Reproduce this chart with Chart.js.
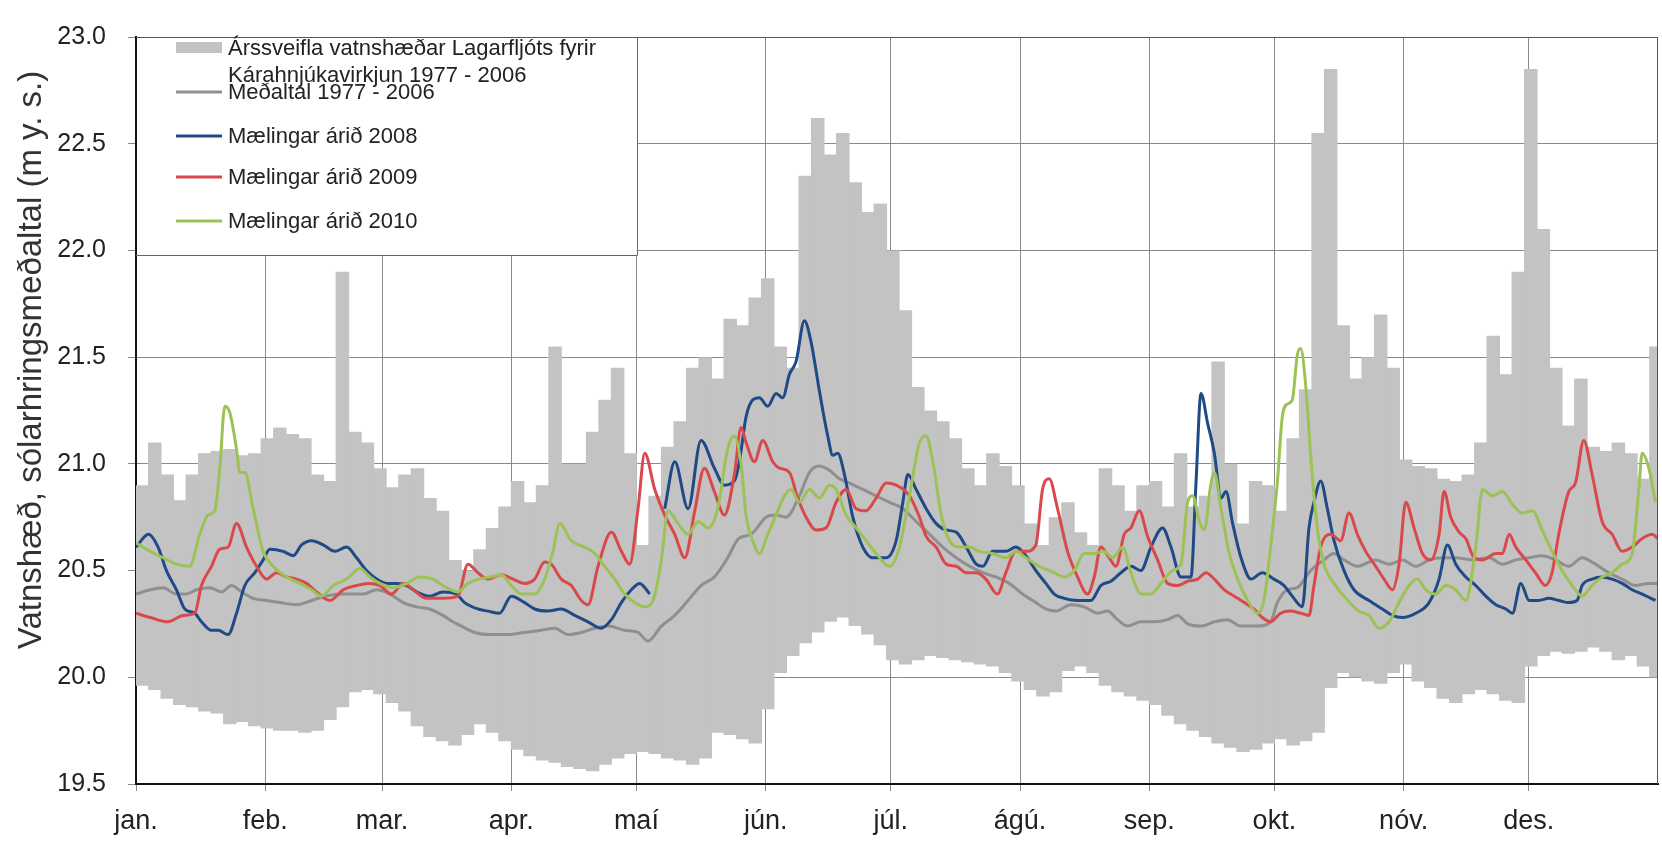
<!DOCTYPE html>
<html><head><meta charset="utf-8">
<script src="https://cdn.jsdelivr.net/npm/chart.js@4.4.1/dist/chart.umd.min.js"></script>
<style>html,body{margin:0;padding:0;background:#fff;}canvas{display:block;}</style>
</head><body>
<canvas id="c" width="1662" height="843"></canvas>
<script>
// ---- axis categories ----
const monthStarts = [0,31,59,90,120,151,181,212,243,273,304,334];
const monthLabels = ['jan.','feb.','mar.','apr.','maí','jún.','júl.','ágú.','sep.','okt.','nóv.','des.'];
const yTitle = 'Vatnshæð, sólarhringsmeðaltal (m y. s.)';
const legendBand = ['Árssveifla vatnshæðar Lagarfljóts fyrir','Kárahnjúkavirkjun 1977 - 2006'];
const legendMean = 'Meðaltal 1977 - 2006';
const legend2008 = 'Mælingar árið 2008';
const legend2009 = 'Mælingar árið 2009';
const legend2010 = 'Mælingar árið 2010';

// ---- range band 1977-2006 (start day of each 3-day bin, low, high) ----
const bandDays = [0,3,6,9,12,15,18,21,24,27,30,33,36,39,42,45,48,51,54,57,60,63,66,69,72,75,78,81,84,87,90,93,96,99,102,105,108,111,114,117,120,123,126,129,132,135,138,141,144,147,150,153,156,159,162,165,168,171,174,177,180,183,186,189,192,195,198,201,204,207,210,213,216,219,222,225,228,231,234,237,240,243,246,249,252,255,258,261,264,267,270,273,276,279,282,285,288,291,294,297,300,303,306,309,312,315,318,321,324,327,330,333,336,339,342,345,348,351,354,357,360,363];
const bandHigh = [20.90,21.10,20.95,20.83,20.95,21.05,21.06,21.07,21.04,21.05,
21.12,21.17,21.14,21.12,20.95,20.92,21.90,21.15,21.10,20.98,
20.89,20.95,20.98,20.84,20.78,20.55,20.50,20.60,20.70,20.80,
20.92,20.82,20.90,21.55,21.00,21.00,21.15,21.30,21.45,21.05,
20.62,20.85,21.08,21.20,21.45,21.50,21.40,21.68,21.65,21.78,
21.87,21.55,21.45,22.35,22.62,22.45,22.55,22.32,22.18,22.22,
22.00,21.72,21.36,21.25,21.20,21.12,20.98,20.90,21.05,20.99,
20.90,20.72,20.62,20.75,20.82,20.68,20.62,20.98,20.90,20.78,
20.90,20.92,20.80,21.05,20.80,20.85,21.48,21.00,20.72,20.92,
20.90,20.78,21.12,21.35,22.55,22.85,21.65,21.40,21.50,21.70,
21.45,21.02,20.99,20.98,20.93,20.92,20.95,21.10,21.60,21.42,
21.90,22.85,22.10,21.45,21.18,21.40,21.08,21.06,21.10,21.05,
20.93,21.55];
const bandLow = [19.96,19.94,19.90,19.87,19.86,19.84,19.83,19.78,19.79,19.77,
19.76,19.75,19.75,19.74,19.75,19.80,19.86,19.93,19.94,19.92,
19.88,19.84,19.77,19.72,19.70,19.68,19.73,19.78,19.74,19.70,
19.66,19.63,19.61,19.60,19.58,19.57,19.56,19.59,19.62,19.64,
19.65,19.64,19.62,19.61,19.59,19.62,19.74,19.73,19.71,19.69,
19.85,20.02,20.10,20.16,20.21,20.26,20.28,20.24,20.20,20.15,
20.08,20.06,20.08,20.10,20.09,20.08,20.07,20.06,20.05,20.02,
19.98,19.94,19.91,19.93,20.03,20.05,20.02,19.96,19.93,19.91,
19.89,19.87,19.82,19.78,19.75,19.72,19.69,19.67,19.65,19.66,
19.69,19.71,19.68,19.70,19.74,19.95,20.02,20.00,19.98,19.97,
20.02,20.06,19.98,19.95,19.90,19.88,19.92,19.94,19.92,19.89,
19.88,20.05,20.10,20.12,20.11,20.12,20.14,20.12,20.08,20.10,
20.05,20.00];

// ---- mean 1977-2006 ----
const meanDays = [0,3.4,6.5,9.7,12.1,14.5,17.7,20.5,22.9,25.3,28.1,31.3,34.5,38.5,42.1,45.3,49.7,54.5,57.7,60.9,64.1,67.3,70.4,73.6,76,78,81.2,85.2,89.2,93.2,97.2,100.4,103.6,106.8,110,113.2,117.2,120.4,122.8,126,129.2,132.4,135.5,138.7,141.9,144.5,147.5,151.1,153.5,155.9,159.1,161.5,163.9,166.3,168.7,171.1,174.3,177.5,180.7,183.9,187.1,190.3,193.5,196.7,199.9,203.1,206.2,209.4,212.6,215.8,218.2,220.5,224.2,227.4,230.6,233,235.4,237.8,241,244.2,247.4,249.8,252.2,255.4,258.6,261.8,264.9,268.9,272.1,273.7,276.1,278.5,281.7,284.9,287.3,289.7,292.9,297.3,300.5,303.7,306.9,310.1,313.3,316.5,320.5,324.5,327.7,330.9,334.1,337.2,340.4,343.6,346.8,350,353.2,356.4,359.6,362.8,365];
const meanVals = [20.39,20.41,20.42,20.39,20.39,20.41,20.42,20.40,20.43,20.40,20.37,20.36,20.35,20.34,20.36,20.38,20.39,20.39,20.41,20.39,20.35,20.33,20.32,20.29,20.26,20.24,20.21,20.20,20.20,20.21,20.22,20.23,20.20,20.21,20.23,20.24,20.22,20.21,20.17,20.24,20.29,20.36,20.43,20.47,20.56,20.65,20.67,20.75,20.76,20.75,20.85,20.96,20.99,20.97,20.93,20.91,20.88,20.85,20.82,20.79,20.73,20.67,20.61,20.56,20.52,20.49,20.47,20.44,20.39,20.35,20.32,20.31,20.34,20.33,20.30,20.31,20.27,20.24,20.26,20.26,20.27,20.29,20.25,20.24,20.26,20.27,20.24,20.24,20.26,20.35,20.41,20.42,20.50,20.55,20.58,20.55,20.52,20.55,20.53,20.55,20.52,20.55,20.56,20.56,20.55,20.56,20.53,20.55,20.56,20.57,20.55,20.52,20.56,20.53,20.49,20.46,20.43,20.44,20.44];

// ---- 2008 ----
const days2008 = [0,3,5.3,7.3,9.7,11.7,14.1,15.7,18.1,19.7,22.1,24.1,26.1,28.5,30.5,32.1,35.3,37.7,39.7,42.1,44.9,47.7,50.5,52.9,55.3,57.7,60.1,62.5,64.9,67.3,70.4,73.6,76.8,78.8,82,84.4,87.2,90,93.2,95.6,98.8,102,105.2,108.4,111.6,114,116.4,118.8,120.8,123.2,125,126.8,129.2,132.4,135.5,138.7,141.1,143.5,144.7,146.3,147.9,149.5,151.5,153.5,155.1,156.7,158.3,160.3,161.9,163.9,165.9,167.1,168.3,169.9,171.9,174.3,176.7,179.9,182.3,183.9,185.1,187.1,189.5,191.9,194.3,196.7,199.1,201.5,203.1,205.4,208.6,211,213.4,215.8,218.2,220.2,222.6,225.8,229,231.4,233.8,236.2,238.6,241,243.4,246.2,248.2,250.6,253,254.2,255.4,257,258.6,260.2,261.4,263,265,267.4,270.1,272.9,275.3,277.3,279.7,281.3,282.5,284.1,285.7,287.3,289.7,292.1,295.7,298.9,301.3,303.7,306.9,310.1,312.5,314.5,316.5,318.9,321.3,323.7,326.1,328.5,330.1,332.1,334.1,336.4,338.8,341.2,343.6,345.6,346.8,349.2,351.6,354,356.4,358.8,361.2,364.4];
const vals2008 = [20.61,20.67,20.61,20.50,20.41,20.32,20.30,20.26,20.22,20.22,20.20,20.30,20.43,20.49,20.55,20.60,20.59,20.57,20.62,20.64,20.62,20.59,20.61,20.56,20.50,20.46,20.44,20.44,20.43,20.40,20.38,20.40,20.39,20.35,20.32,20.31,20.30,20.38,20.35,20.32,20.31,20.32,20.29,20.26,20.23,20.27,20.35,20.41,20.44,20.39,null,20.79,21.01,20.79,21.11,20.98,20.90,20.92,21.01,21.22,21.30,21.31,21.27,21.33,21.31,21.42,21.48,21.67,21.57,21.34,21.13,21.04,21.05,20.95,20.75,20.61,20.56,20.56,20.64,20.82,20.95,20.88,20.79,20.72,20.69,20.68,20.61,20.53,20.52,20.59,20.59,20.61,20.57,20.50,20.44,20.39,20.37,20.36,20.36,20.43,20.45,20.49,20.52,20.50,20.61,20.70,20.61,20.47,20.47,20.91,21.33,21.19,21.05,20.84,20.87,20.72,20.56,20.46,20.49,20.46,20.43,20.38,20.33,20.70,20.82,20.92,20.79,20.64,20.50,20.41,20.36,20.32,20.29,20.28,20.30,20.35,20.46,20.62,20.53,20.47,20.43,20.38,20.34,20.32,20.30,20.44,20.36,20.36,20.37,20.36,20.35,20.36,20.43,20.46,20.47,20.46,20.44,20.41,20.39,20.36];

// ---- 2009 ----
const days2009 = [0,3.4,7.7,11.3,14.1,15.7,18.1,20.1,22.1,24.1,26.5,28.9,31.3,33.7,36.1,38.5,40.9,43.3,46.5,49.7,52.9,55.7,58.5,61.3,64.1,66.5,69.6,73.6,77.2,79.6,82,84.4,87.6,90.4,93.2,95.6,98,99.6,102,104.4,106.8,108.4,110.8,114,116.4,118.4,120.4,122,124.4,126.8,129.2,131.6,134,136.3,138.7,141.1,143.5,145.1,146.3,148.3,150.3,152.7,154.3,156.7,158.7,160.7,163.1,165.5,167.9,170.3,172.7,175.1,177.5,179.9,182.3,185.5,187.9,189.5,191.9,194.3,196.7,199.1,201.5,203.8,206.6,208.6,211,213.4,215.8,217.4,219,221,223.4,225.8,228.2,229.8,231.4,233.4,235,237,238.6,240.6,242.6,245,247.4,249.8,252.2,254.6,256.6,258.6,261,263.4,265.8,268.1,270.1,272.1,274.5,276.9,279.3,281.3,282.5,284.1,286.5,288.9,290.9,292.9,294.9,297.3,299.3,301.3,302.9,304.5,306.5,308.5,310.5,312.5,313.7,315.3,317.3,318.9,320.9,322.9,326.1,327.7,329.3,330.9,333.3,335.6,338,339.6,341.2,343.6,345.2,347.2,349.2,351.6,354,356.4,358.8,361.2,363.6,365];
const vals2009 = [20.30,20.28,20.26,20.29,20.30,20.43,20.52,20.60,20.61,20.72,20.61,20.52,20.46,20.49,20.47,20.46,20.44,20.40,20.36,20.41,20.43,20.44,20.43,20.39,20.44,20.41,20.37,20.37,20.38,20.53,20.49,20.46,20.48,20.46,20.44,20.46,20.54,20.53,20.46,20.43,20.36,20.34,20.52,20.68,20.59,20.53,20.79,21.05,20.88,20.76,20.67,20.56,20.78,20.98,20.87,20.76,20.95,21.17,21.10,21.01,21.11,21.01,20.98,20.96,20.84,20.75,20.69,20.70,20.82,20.88,20.79,20.78,20.84,20.91,20.90,20.85,20.75,20.66,20.61,20.53,20.52,20.49,20.49,20.46,20.39,20.49,20.59,20.59,20.62,20.88,20.93,20.79,20.59,20.47,20.39,20.47,20.61,20.56,20.52,20.67,20.70,20.78,20.66,20.55,20.44,20.43,20.45,20.46,20.49,20.46,20.41,20.38,20.35,20.32,20.28,20.26,20.30,20.31,20.30,20.29,20.43,20.61,20.67,20.64,20.77,20.67,20.59,20.52,20.46,20.41,20.53,20.82,20.70,20.58,20.55,20.67,20.87,20.75,20.68,20.65,20.56,20.55,20.58,20.58,20.67,20.61,20.55,20.49,20.43,20.49,20.67,20.87,20.91,21.11,20.95,20.73,20.67,20.59,20.61,20.65,20.67,20.65];

// ---- 2010 ----
const days2010 = [0,3.4,6.5,9.7,12.9,15.3,17.3,18.9,20.1,21.3,22.5,24.1,24.9,26.1,28.1,30.5,32.9,36.1,39.3,42.1,44.5,47.3,50.5,53.7,56.1,58.5,61.7,64.9,68,71.2,73.6,77.2,79.6,82,85.2,87.6,90,92.4,95.6,98,100,101.6,104.4,107.6,110,112.4,114.8,117.2,119.6,122,124,126,127.6,130,132.4,134.8,137.2,139.5,141.9,143.5,145.1,146.3,147.9,149.5,151.5,153.5,155.5,157.1,159.1,161.5,163.9,166.3,167.9,170.3,172.7,175.1,177.5,180.7,183.1,185.5,187.9,189.5,191.1,193.1,195.1,197.5,199.9,202.2,205.4,208.6,211,213.4,216.6,220.2,222.6,225,227.4,229.8,232.2,234.2,236.6,238.6,241,243.4,245.8,248.6,250.6,252.2,253.4,255,256.2,257.8,258.6,260.2,262.2,264.2,266.6,269,270.5,272.1,273.7,274.9,276.1,277.3,278.5,279.3,280.5,281.7,283.3,284.9,287.3,289.7,293.3,295.7,298.1,300.5,302.9,305.3,307.3,309.3,311.7,314.1,316.5,318.9,321.3,322.9,325.3,327.7,330.1,332.5,334.9,337.2,339.6,342,344.4,346.8,349.2,351.6,354,356.4,358.8,360.4,361.2,362.8,364.4];
const vals2010 = [20.63,20.59,20.56,20.53,20.52,20.67,20.76,20.78,20.98,21.27,21.24,21.07,20.96,20.96,20.79,20.59,20.52,20.47,20.44,20.41,20.38,20.43,20.46,20.51,20.47,20.44,20.42,20.44,20.47,20.46,20.43,20.40,20.44,20.46,20.47,20.48,20.43,20.39,20.39,20.46,20.59,20.72,20.64,20.61,20.58,20.52,20.46,20.39,20.35,20.33,20.36,20.55,20.78,20.72,20.67,20.73,20.70,20.79,21.07,21.13,21.00,20.76,20.64,20.58,20.67,20.76,20.85,20.88,20.82,20.88,20.84,20.90,20.88,20.76,20.70,20.64,20.58,20.52,20.61,20.85,21.10,21.13,21.01,20.76,20.64,20.61,20.61,20.59,20.58,20.56,20.59,20.56,20.52,20.49,20.47,20.50,20.58,20.58,20.59,20.56,20.61,20.49,20.39,20.39,20.44,20.50,20.53,20.82,20.85,20.73,20.69,20.91,20.96,20.79,20.58,20.46,20.36,20.30,20.36,20.61,20.91,21.22,21.28,21.30,21.51,21.54,21.37,21.04,20.70,20.53,20.44,20.38,20.31,20.29,20.23,20.26,20.35,20.43,20.46,20.41,20.39,20.43,20.41,20.36,20.61,20.88,20.85,20.87,20.81,20.77,20.78,20.69,20.59,20.50,20.43,20.38,20.43,20.47,20.49,20.53,20.58,20.88,21.05,20.98,20.82];

// ---- colours ----
const cBand = '#c3c3c3', cMean = '#8f8f8f', c2008 = '#1f4a86', c2009 = '#d9494c', c2010 = '#9cc256';
const FONT = "'Liberation Sans', Arial, sans-serif";
Chart.defaults.font.family = FONT;

const pts = (d, v) => d.map((x, i) => ({x: x, y: v[i]}));
const lineDs = (label, d, v, color, order) => ({
  type: 'line', label, data: pts(d, v), borderColor: color, backgroundColor: color,
  borderWidth: 3, pointRadius: 0, cubicInterpolationMode: 'monotone', spanGaps: false, order
});

const deco = {
  id: 'deco',
  afterDatasetsDraw(chart) {
    const ctx = chart.ctx, a = chart.chartArea;
    ctx.save();
    // top and right frame
    ctx.strokeStyle = '#555'; ctx.lineWidth = 1;
    ctx.beginPath();
    ctx.moveTo(a.left, a.top + 0.5); ctx.lineTo(a.right, a.top + 0.5);
    ctx.moveTo(a.right - 0.5, a.top); ctx.lineTo(a.right - 0.5, a.bottom);
    ctx.stroke();
    // legend box
    const bx0 = a.left + 1, by0 = a.top + 1, bx1 = a.left + 501, by1 = a.top + 218;
    ctx.fillStyle = '#fff';
    ctx.fillRect(bx0, by0, bx1 - bx0, by1 - by0);
    ctx.strokeStyle = '#666'; ctx.lineWidth = 1;
    ctx.beginPath();
    ctx.moveTo(bx1 + 0.5, a.top); ctx.lineTo(bx1 + 0.5, by1 + 0.5); ctx.lineTo(a.left, by1 + 0.5);
    ctx.stroke();
    const sx0 = a.left + 40, sx1 = a.left + 86, tx = a.left + 92;
    ctx.font = '22px ' + FONT; ctx.textBaseline = 'middle'; ctx.textAlign = 'left';
    ctx.fillStyle = cBand; ctx.fillRect(sx0, a.top + 5, sx1 - sx0, 11);
    ctx.fillStyle = '#222';
    ctx.fillText(legendBand[0], tx, a.top + 12);
    ctx.fillText(legendBand[1], tx, a.top + 39);
    const items = [[legendMean, cMean, 55], [legend2008, c2008, 99], [legend2009, c2009, 140], [legend2010, c2010, 184]];
    items.forEach(([t, col, dy]) => {
      ctx.strokeStyle = col; ctx.lineWidth = 3;
      ctx.beginPath(); ctx.moveTo(sx0, a.top + dy); ctx.lineTo(sx1, a.top + dy); ctx.stroke();
      ctx.fillStyle = '#222'; ctx.fillText(t, tx, a.top + dy + 1);
    });
    // y axis title
    ctx.translate(32, 360); ctx.rotate(-Math.PI / 2);
    ctx.font = '33px ' + FONT; ctx.textAlign = 'center'; ctx.fillStyle = '#333';
    ctx.fillText(yTitle, 0, 0);
    ctx.restore();
  }
};

new Chart(document.getElementById('c'), {
  type: 'bar',
  data: {
    datasets: [
      lineDs(legend2010, days2010, vals2010, c2010, 1),
      lineDs(legend2009, days2009, vals2009, c2009, 2),
      lineDs(legend2008, days2008, vals2008, c2008, 3),
      lineDs(legendMean, meanDays, meanVals, cMean, 4),
      { type: 'bar', label: legendBand.join(' '), data: bandDays.map((d, i) => ({x: d + 1.5, y: [bandLow[i], bandHigh[i]]})),
        backgroundColor: cBand, borderWidth: 0, barPercentage: 1.08, categoryPercentage: 1, grouped: false, order: 10 }
    ]
  },
  options: {
    responsive: false, animation: false, events: [],
    layout: { padding: { top: 23, right: 4, left: 0, bottom: 0 } },
    plugins: { legend: { display: false }, tooltip: { enabled: false } },
    scales: {
      x: {
        type: 'linear', min: 0, max: 365, offset: false,
        afterBuildTicks: s => { s.ticks = monthStarts.map(v => ({ value: v })); },
        afterFit: s => { s.height = 59; },
        ticks: { autoSkip: false, maxRotation: 0, padding: 14, color: '#222', font: { size: 27 },
          callback: v => { const k = monthStarts.indexOf(v); return k >= 0 ? monthLabels[k] : ''; } },
        grid: { color: '#8a8a8a', lineWidth: 1, tickLength: 7, offset: false },
        border: { color: '#111', width: 2 }
      },
      y: {
        min: 19.5, max: 23.0,
        afterFit: s => { s.width = 136; },
        ticks: { stepSize: 0.5, padding: 22, color: '#222', font: { size: 25 }, callback: v => v.toFixed(1) },
        grid: { color: '#8a8a8a', lineWidth: 1, tickLength: 8 },
        border: { color: '#111', width: 2 }
      }
    }
  },
  plugins: [deco]
});
</script>
</body></html>
